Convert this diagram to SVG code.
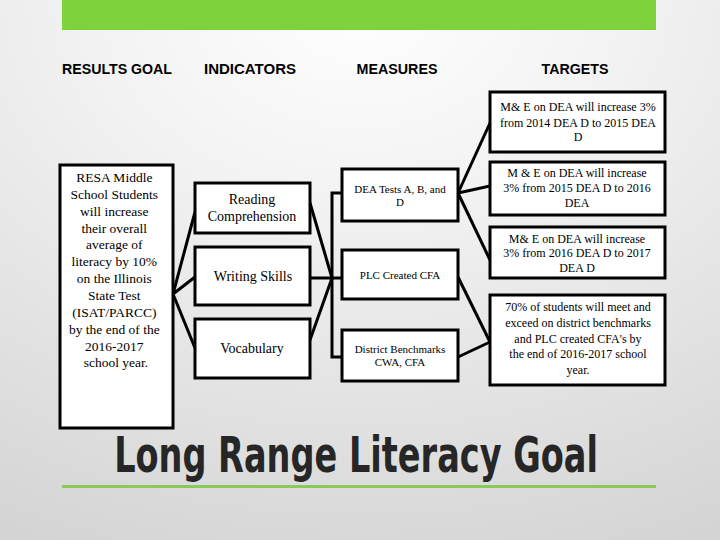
<svg xmlns="http://www.w3.org/2000/svg" width="720" height="540" viewBox="0 0 720 540">
<defs>
<radialGradient id="bg" cx="0.5" cy="0" r="1.1" fx="0.5" fy="0">
<stop offset="0" stop-color="#ffffff"/>
<stop offset="0.35" stop-color="#f2f2f2"/>
<stop offset="1" stop-color="#d4d4d4"/>
</radialGradient>
<style>
.box{fill:#fff;stroke:#000;stroke-width:3}
.hd{font-family:"Liberation Sans",Arial,sans-serif;font-weight:bold;font-size:14px;fill:#000;text-anchor:middle}
.t{font-family:"Liberation Serif","Times New Roman",serif;fill:#000;text-anchor:middle}
.c{stroke:#000;stroke-width:3;fill:none}
</style>
</defs>
<rect width="720" height="540" fill="url(#bg)"/>
<rect x="62" y="0" width="594" height="30" fill="#7ed23c"/>
<g id="headers">
<text class="hd" x="117" y="74" textLength="110" lengthAdjust="spacingAndGlyphs">RESULTS GOAL</text>
<text class="hd" x="250" y="74" textLength="92" lengthAdjust="spacingAndGlyphs">INDICATORS</text>
<text class="hd" x="397" y="74" textLength="81" lengthAdjust="spacingAndGlyphs">MEASURES</text>
<text class="hd" x="575" y="74" textLength="67" lengthAdjust="spacingAndGlyphs">TARGETS</text>
</g>
<g id="connectors">
<polyline class="c" points="195,212 173,294 195,277"/>
<line class="c" x1="173" y1="294" x2="195" y2="348"/>
<line class="c" x1="310" y1="203" x2="332" y2="278"/>
<line class="c" x1="310" y1="278" x2="342" y2="278"/>
<line class="c" x1="310" y1="340" x2="332" y2="278"/>
<polyline class="c" points="342,193 332,193 332,357 342,357"/>
<line class="c" x1="458" y1="193" x2="490" y2="123"/>
<line class="c" x1="458" y1="193" x2="490" y2="186"/>
<line class="c" x1="458" y1="193" x2="490" y2="260"/>
<line class="c" x1="458" y1="277" x2="490" y2="342"/>
<line class="c" x1="458" y1="357" x2="490" y2="342"/>
</g>
<g id="goal">
<rect class="box" x="60" y="165" width="113" height="263"/>
<text class="t" font-size="13.5">
<tspan x="116" y="182">RESA Middle</tspan>
<tspan x="116" y="199">School Students</tspan>
<tspan x="116" y="216">will increase</tspan>
<tspan x="116" y="233">their overall</tspan>
<tspan x="116" y="249">average of</tspan>
<tspan x="116" y="266">literacy by 10%</tspan>
<tspan x="116" y="283">on the Illinois</tspan>
<tspan x="116" y="300">State Test</tspan>
<tspan x="116" y="317">(ISAT/PARCC)</tspan>
<tspan x="116" y="334">by the end of the</tspan>
<tspan x="116" y="351">2016-2017</tspan>
<tspan x="116" y="367">school year.</tspan>
</text>
</g>
<g id="ind-reading">
<rect class="box" x="195" y="183" width="115" height="50"/>
<text class="t" font-size="14"><tspan x="252" y="204">Reading</tspan><tspan x="252" y="221">Comprehension</tspan></text>
</g>
<g id="ind-writing">
<rect class="box" x="195" y="247" width="115" height="58"/>
<text class="t" font-size="14" x="253" y="281">Writing Skills</text>
</g>
<g id="ind-vocab">
<rect class="box" x="195" y="319" width="115" height="59"/>
<text class="t" font-size="14" x="252" y="353">Vocabulary</text>
</g>
<g id="m-dea">
<rect class="box" x="342" y="169" width="116" height="52"/>
<text class="t" font-size="11"><tspan x="400" y="193">DEA Tests A, B, and</tspan><tspan x="400" y="206">D</tspan></text>
</g>
<g id="m-plc">
<rect class="box" x="342" y="250" width="116" height="49"/>
<text class="t" font-size="11" x="400" y="279">PLC Created CFA</text>
</g>
<g id="m-district">
<rect class="box" x="342" y="330" width="116" height="51"/>
<text class="t" font-size="11"><tspan x="400" y="353">District Benchmarks</tspan><tspan x="400" y="366">CWA, CFA</tspan></text>
</g>
<g id="t1">
<rect class="box" x="490" y="92" width="175" height="60"/>
<text class="t" font-size="12"><tspan x="578" y="111">M&amp; E on DEA will increase 3%</tspan><tspan x="578" y="127">from 2014 DEA D  to 2015 DEA</tspan><tspan x="578" y="141">D</tspan></text>
</g>
<g id="t2">
<rect class="box" x="490" y="162" width="175" height="53"/>
<text class="t" font-size="12"><tspan x="577" y="177">M &amp; E on DEA will increase</tspan><tspan x="577" y="192">3% from 2015 DEA D  to 2016</tspan><tspan x="577" y="207">DEA</tspan></text>
</g>
<g id="t3">
<rect class="box" x="490" y="227" width="175" height="51"/>
<text class="t" font-size="12"><tspan x="577" y="243">M&amp; E on DEA will increase</tspan><tspan x="577" y="257">3% from 2016 DEA D  to 2017</tspan><tspan x="577" y="272">DEA D</tspan></text>
</g>
<g id="t4">
<rect class="box" x="490" y="295" width="175" height="90"/>
<text class="t" font-size="12"><tspan x="578" y="311">70% of students will meet and</tspan><tspan x="578" y="327">exceed on district benchmarks</tspan><tspan x="578" y="343">and PLC  created CFA's by</tspan><tspan x="578" y="358">the end of 2016-2017  school</tspan><tspan x="578" y="374">year.</tspan></text>
</g>
<g transform="translate(356 472) scale(0.746 1)">
<text x="0" y="0" text-anchor="middle" font-family="'DejaVu Sans Condensed','Liberation Sans',sans-serif" font-weight="bold" font-size="50" fill="#262626">Long Range Literacy Goal</text>
</g>
<rect x="62" y="485" width="594" height="3" fill="#8dc85e"/>
</svg>
